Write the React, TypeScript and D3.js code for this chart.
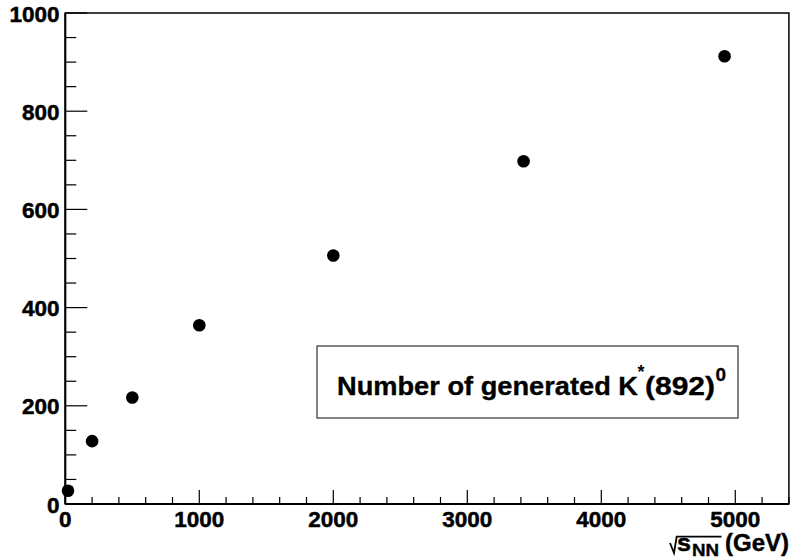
import React, { useEffect } from "react";
import * as d3 from "d3";

const energies = [20, 200, 500, 1000, 2000, 3420, 4920];
const counts = [27, 128, 217, 364, 506, 698, 912];
const xTickValues = [0, 1000, 2000, 3000, 4000, 5000];
const yTickValues = [0, 200, 400, 600, 800, 1000];

const W = 791;
const H = 558;
const FONT = "'Liberation Sans', Arial, Helvetica, sans-serif";
const DIGIT_W = 12.5;

export default function App() {
  useEffect(() => {
    document.body.style.margin = "0";
  }, []);

  const x = d3.scaleLinear().domain([0, 5400]).range([65.3, 788.9]);
  const y = d3.scaleLinear().domain([0, 1000]).range([504, 13]);

  const xMinor = d3.range(0, 5401, 200).filter((v) => v % 1000 !== 0);
  const yMinor = d3.range(0, 1001, 50).filter((v) => v % 200 !== 0);

  const [x0, x1] = x.range();
  const [y0, y1] = y.range();

  return (
    <svg
      width={W}
      height={H}
      style={{ position: "absolute", left: 0, top: 0, background: "#fff" }}
      fontFamily={FONT}
      fontWeight="bold"
    >
      <rect x={0} y={0} width={W} height={H} fill="#fff" />
      <rect
        x={x0}
        y={y1}
        width={x1 - x0}
        height={y0 - y1}
        fill="none"
        stroke="#000"
        strokeWidth={1.5}
      />
      <line x1={x0} y1={y0} x2={x0} y2={y1} stroke="#000" strokeWidth={2} />
      <line x1={x0} y1={y0} x2={x1} y2={y0} stroke="#000" strokeWidth={2} />

      {yTickValues.map((v) => (
        <line key={"yt" + v} x1={x0} x2={x0 + 22} y1={y(v)} y2={y(v)} stroke="#000" strokeWidth={1.2} />
      ))}
      {yMinor.map((v) => (
        <line key={"ym" + v} x1={x0} x2={x0 + 11} y1={y(v)} y2={y(v)} stroke="#000" strokeWidth={1.2} />
      ))}
      {yTickValues.map((v) => {
        const s = String(v);
        return (
          <text
            key={"yl" + v}
            x={59.5}
            y={y(v) + 8.5}
            fontSize={22.5}
            textAnchor="end"
            fill="#000"
            stroke="#000"
            strokeWidth={0.5}
            textLength={s.length * DIGIT_W}
            lengthAdjust="spacingAndGlyphs"
          >
            {s}
          </text>
        );
      })}

      {xTickValues.map((v) => (
        <line key={"xt" + v} x1={x(v)} x2={x(v)} y1={y0} y2={y0 - 14} stroke="#000" strokeWidth={1.2} />
      ))}
      {xMinor.map((v) => (
        <line key={"xm" + v} x1={x(v)} x2={x(v)} y1={y0} y2={y0 - 7} stroke="#000" strokeWidth={1.2} />
      ))}
      {xTickValues.map((v) => {
        const s = String(v);
        return (
          <text
            key={"xl" + v}
            x={x(v)}
            y={527}
            fontSize={22.5}
            textAnchor="middle"
            fill="#000"
            stroke="#000"
            strokeWidth={0.5}
            textLength={s.length * DIGIT_W}
            lengthAdjust="spacingAndGlyphs"
          >
            {s}
          </text>
        );
      })}

      {/* x axis title: sqrt(s_NN) (GeV) */}
      <path
        d="M670,543 L674,553 L676.7,536.7 L721.5,536.7"
        fill="none"
        stroke="#000"
        strokeWidth={1.8}
      />
      <text x={677} y={551} fontSize={23} fill="#000" stroke="#000" strokeWidth={0.45}
        textLength={14} lengthAdjust="spacingAndGlyphs">s</text>
      <text x={692} y={556} fontSize={16} fill="#000" stroke="#000" strokeWidth={0.35}
        textLength={27} lengthAdjust="spacingAndGlyphs">NN</text>
      <text x={789} y={551} fontSize={23} textAnchor="end" fill="#000" stroke="#000" strokeWidth={0.45}
        textLength={64} lengthAdjust="spacingAndGlyphs">(GeV)</text>

      {energies.map((e, i) => (
        <circle key={"p" + i} cx={x(e)} cy={y(counts[i])} r={6.3} fill="#000" />
      ))}

      <rect x={317} y={346} width={421} height={72} fill="#fff" stroke="#333" strokeWidth={1.2} />
      <text x={337} y={395} fontSize={26} fill="#000" stroke="#000" strokeWidth={0.35}
        textLength={301} lengthAdjust="spacingAndGlyphs">Number of generated K</text>
      <text x={637.5} y={378} fontSize={18} fill="#000">*</text>
      <text x={645} y={395} fontSize={26} fill="#000" stroke="#000" strokeWidth={0.35}
        textLength={70} lengthAdjust="spacingAndGlyphs">(892)</text>
      <text x={715.5} y={381} fontSize={19} fill="#000" stroke="#000" strokeWidth={0.3}>0</text>
    </svg>
  );
}
